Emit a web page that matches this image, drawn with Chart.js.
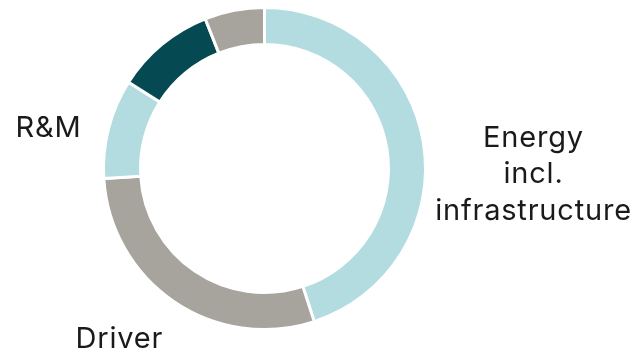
<!DOCTYPE html>
<html>
<head>
<meta charset="utf-8">
<script src="https://cdn.jsdelivr.net/npm/chart.js@4.4.1/dist/chart.umd.min.js"></script>
<style>
  html, body { margin: 0; padding: 0; background: #fff; }
  #wrap { width: 641px; height: 354px; }
</style>
</head>
<body>
<div id="wrap"><canvas id="costChart"></canvas></div>
<script>
// cost split, clockwise from 12 o'clock
const categories = ['Energy\nincl.\ninfrastructure', 'Driver', 'R&M', 'Other', 'Other 2'];
const shares = [45, 29, 10, 10, 6];
const showLabel = [true, true, true, false, false];
const colors = ['#b3dce0', '#a7a49e', '#b3dce0', '#054a52', '#a7a49e'];

// where each visible label sits, relative to the ring centre
const labelPlacement = [
  { dx: 269, dy: -22, align: 'center' },
  { dx: -189, dy: 179, align: 'left' },
  { dx: -249, dy: -32, align: 'left' },
  null,
  null
];

const sliceLabels = {
  id: 'sliceLabels',
  afterDraw(chart) {
    const ctx = chart.ctx;
    const arc = chart.getDatasetMeta(0).data[0];
    const cx = arc.x, cy = arc.y;
    ctx.save();
    ctx.fillStyle = '#1a1a1a';
    ctx.font = '400 29px Inter, "Open Sans", sans-serif';
    ctx.letterSpacing = '0.8px';
    ctx.textBaseline = 'alphabetic';
    categories.forEach((name, i) => {
      if (!showLabel[i]) return;
      const p = labelPlacement[i];
      ctx.textAlign = p.align;
      name.split('\n').forEach((line, k) => {
        ctx.fillText(line, cx + p.dx, cy + p.dy + k * 36.5);
      });
    });
    ctx.restore();
  }
};

new Chart(document.getElementById('costChart'), {
  type: 'doughnut',
  data: {
    labels: categories,
    datasets: [{
      data: shares,
      backgroundColor: colors,
      borderColor: '#ffffff',
      borderWidth: 3,
      hoverOffset: 0
    }]
  },
  options: {
    responsive: true,
    maintainAspectRatio: false,
    animation: false,
    cutout: '77%',
    layout: { padding: { left: 102, right: 214, top: 6, bottom: 23 } },
    plugins: {
      legend: { display: false },
      tooltip: { enabled: false }
    }
  },
  plugins: [sliceLabels]
});
</script>
</body>
</html>
